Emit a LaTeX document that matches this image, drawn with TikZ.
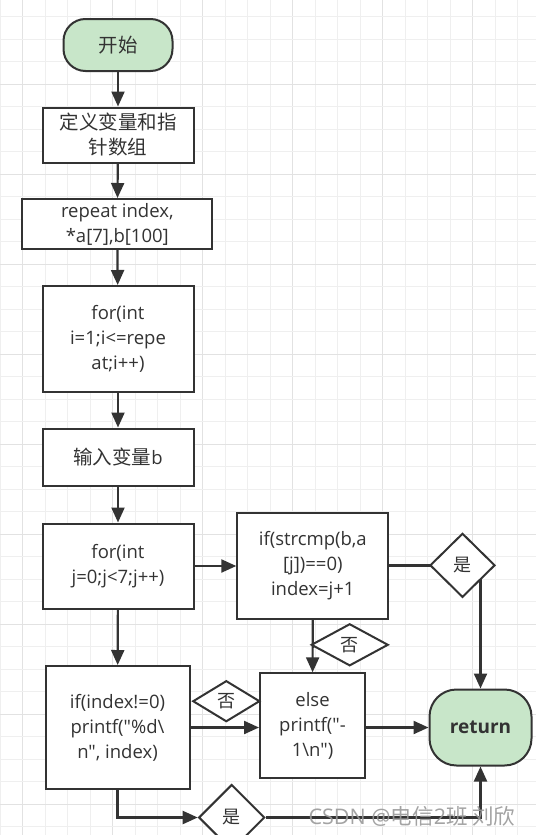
\documentclass[tikz,border=0pt]{standalone}
\usepackage{fontspec}
\setmainfont{Open Sans}[Ligatures=TeXOff]
\newfontfamily\cjk{Noto Sans CJK SC}
\newcommand\dq{\symbol{34}}
\usetikzlibrary{arrows.meta,shapes.geometric}
\definecolor{ln}{HTML}{333333}
\definecolor{gfill}{HTML}{C8E6C9}
\definecolor{gminor}{HTML}{EFEFEF}
\definecolor{gmajor}{HTML}{E2E2E2}
\begin{document}
\begin{tikzpicture}[x=1pt,y=-1pt,
  every node/.style={font=\fontsize{18.5}{25}\selectfont, text=ln},
  box/.style={draw=ln, line width=2pt, fill=white, align=center, inner sep=0pt},
  term/.style={draw=ln, line width=2pt, fill=gfill, align=center, inner sep=0pt},
  dia/.style={diamond, draw=ln, line width=2pt, fill=white, inner sep=0pt, font=\cjk\fontsize{18}{20}\selectfont},
  conn/.style={draw=ln, line width=2.2pt},
  arr/.style={conn, -{Triangle[length=15pt,width=13pt]}}
]
\useasboundingbox (0,0) rectangle (536,835);
\fill[white] (0,0) rectangle (536,835);
% grid
\foreach \k in {0,...,23}{
  \pgfmathsetmacro{\xx}{0.2+22.5*\k}
  \pgfmathtruncatemacro{\m}{mod(\k,4)}
  \ifnum\m=1 \draw[gmajor, line width=1pt] (\xx,0) -- (\xx,835);
  \else \draw[gminor, line width=1pt] (\xx,0) -- (\xx,835); \fi
}
\foreach \k in {0,...,36}{
  \pgfmathsetmacro{\yy}{16.8+22.5*\k}
  \pgfmathtruncatemacro{\m}{mod(\k,4)}
  \ifnum\m=3 \draw[gmajor, line width=1pt] (0,\yy) -- (536,\yy);
  \else \draw[gminor, line width=1pt] (0,\yy) -- (536,\yy); \fi
}
% nodes
\node[term, rounded corners=22pt, minimum width=109pt, minimum height=52pt, font=\cjk\fontsize{19.5}{25}\selectfont] (start) at (118,45) {开始};
\node[box, minimum width=151pt, minimum height=55pt, font=\cjk\fontsize{19.5}{25}\selectfont] (def) at (118,135) {定义变量和指\\针数组};
\node[box, minimum width=190pt, minimum height=50pt] (rep) at (117.3,224) {repeat index,\\ *a[7],b[100]};
\node[box, minimum width=151pt, minimum height=106pt] (fori) at (118,339) {for(int\\i=1;i<=repe\\at;i++)};
\node[box, minimum width=151pt, minimum height=57pt] (inb) at (118,457) {{\cjk\fontsize{19.5}{25}\selectfont 输入变量}b};
\node[box, minimum width=151pt, minimum height=85pt] (forj) at (118,566) {for(int\\j=0;j<7;j++)};
\node[box, minimum width=151pt, minimum height=106pt] (cmp) at (312.8,565.5) {if(strcmp(b,a\\{[j])==0)}\\index=j+1};
\node[box, minimum width=144pt, minimum height=123pt] (idx) at (117.5,727.5) {if(index!=0)\\printf(\dq\%d\textbackslash\\n\dq, index)};
\node[box, minimum width=105pt, minimum height=105pt] (els) at (312.5,725.8) {else\\printf(\dq-\\1\textbackslash n\dq)};
\node[term, rounded corners=27pt, minimum width=102pt, minimum height=76pt, font=\fontsize{19}{24}\selectfont\bfseries] (ret) at (480.5,727.5) {return};
% connectors
\draw[arr] (start) -- (def);
\draw[arr] (def) -- (rep);
\draw[arr] (rep) -- (fori);
\draw[arr] (fori) -- (inb);
\draw[arr] (inb) -- (forj);
\draw[arr] (forj.east) -- (cmp.west |- forj.east);
\draw[arr] (forj) -- (idx);
\draw[arr] (cmp.east) -| (ret.north);
\draw[arr] (cmp) -- (els);
\draw[arr] (idx.east) -- (els.west |- idx.east);
\draw[arr] (els.east |- ret.west) -- (ret.west);
\node[dia, minimum width=66pt, minimum height=66pt] (yes2) at (231.7,817.5) {是};
\draw[arr] (idx.south) |- (yes2.west);
\draw[arr] (yes2.east) -| (ret.south);
% labels
\node[dia, minimum width=65pt, minimum height=64pt] (yes1) at (462.5,565.3) {是};
\node[dia, minimum width=77pt, minimum height=42pt] (no1) at (349.7,644.8) {否};
\node[dia, minimum width=67pt, minimum height=41pt] (no2) at (226.3,701.2) {否};
% watermark
\node[text=black!40, opacity=0.9, font=\fontsize{21.5}{23}\selectfont, anchor=center] (wm) at (412,816) {CSDN @{\cjk 电信}2{\cjk 班 刘欣}};
\end{tikzpicture}
\end{document}
